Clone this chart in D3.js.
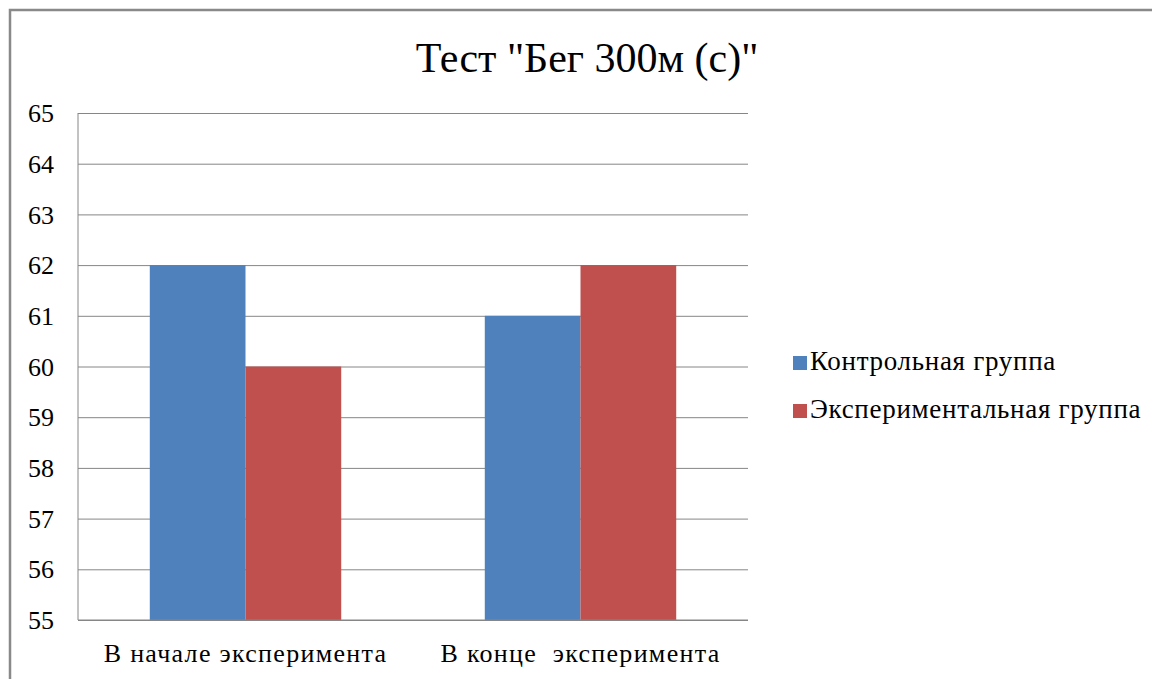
<html>
<head>
<script src="https://d3js.org/d3.v7.min.js"></script>
<style>
  body { margin: 0; background: #fff; }
  svg text { font-family: 'Liberation Serif', 'Times New Roman', 'DejaVu Serif', serif; fill: #000; }
  .gridlines line { stroke: #868686; stroke-width: 1; }
  .gridlines .domain { stroke: none; }
</style>
</head>
<body>
<svg id="chart" width="1152" height="679"></svg>
<script>
const categories = ["В начале эксперимента", "В конце  эксперимента"];
const seriesNames = ["Контрольная группа", "Экспериментальная группа"];
const control = [62, 61];
const experimental = [60, 62];
const yTicks = [55, 56, 57, 58, 59, 60, 61, 62, 63, 64, 65];
const colors = ["#4F81BD", "#C0504D"];
const serif = "'Liberation Serif', 'Times New Roman', 'DejaVu Serif', serif";

const svg = d3.select("svg#chart");

// outer frame (runs off the right and bottom edges)
svg.append("rect")
  .attr("x", 10).attr("y", 10)
  .attr("width", 1200).attr("height", 700)
  .attr("fill", "none").attr("stroke", "#898989").attr("stroke-width", 2.5);

const plot = {left: 78, right: 748, top: 113, bottom: 620};

const yScale = d3.scaleLinear().domain([55, 65]).range([plot.bottom, plot.top]);
const x0 = d3.scaleBand().domain(categories).range([plot.left, plot.right]);
const x1 = d3.scaleBand().domain(seriesNames).range([0, x0.bandwidth()])
  .paddingInner(0).paddingOuter(0.75);

// gridlines
svg.append("g")
  .attr("class", "gridlines")
  .attr("transform", `translate(${plot.left},0)`)
  .call(d3.axisLeft(yScale).tickValues(yTicks).tickSize(-(plot.right - plot.left)).tickFormat(""));

// y labels
svg.append("g").selectAll("text")
  .data(yTicks)
  .join("text")
  .attr("x", 54)
  .attr("y", d => yScale(d))
  .attr("dy", "0.35em")
  .attr("text-anchor", "end")
  .attr("font-family", serif)
  .attr("font-size", 26)
  .text(d => d);

// bars
const rows = categories.map((c, i) => ({cat: c, values: [control[i], experimental[i]]}));
svg.append("g").selectAll("g")
  .data(rows)
  .join("g")
  .attr("transform", d => `translate(${x0(d.cat)},0)`)
  .selectAll("rect")
  .data(d => d.values.map((v, j) => ({name: seriesNames[j], v: v, j: j})))
  .join("rect")
  .attr("x", d => x1(d.name))
  .attr("y", d => yScale(d.v))
  .attr("width", x1.bandwidth())
  .attr("height", d => yScale(55) - yScale(d.v))
  .attr("fill", d => colors[d.j]);

// axis lines
svg.append("line")
  .attr("x1", plot.left).attr("x2", plot.right)
  .attr("y1", plot.bottom).attr("y2", plot.bottom)
  .attr("stroke", "#868686");
svg.append("line")
  .attr("x1", plot.left).attr("x2", plot.left)
  .attr("y1", plot.top).attr("y2", plot.bottom)
  .attr("stroke", "#868686");

// category labels
svg.append("g").selectAll("text")
  .data(categories)
  .join("text")
  .attr("x", d => x0(d) + x0.bandwidth() / 2)
  .attr("y", 662)
  .attr("text-anchor", "middle")
  .attr("font-family", serif)
  .attr("font-size", 26)
  .attr("letter-spacing", 1.3)
  .style("white-space", "pre")
  .text(d => d);

// title
svg.append("text")
  .attr("x", 587).attr("y", 72)
  .attr("text-anchor", "middle")
  .attr("font-family", serif)
  .attr("font-size", 42)
  .text('Тест "Бег 300м (с)"');

// legend
const legend = svg.append("g").selectAll("g")
  .data(seriesNames)
  .join("g")
  .attr("transform", (d, i) => `translate(793,${370 + i * 48})`);
legend.append("rect")
  .attr("x", 0).attr("y", -14)
  .attr("width", 14).attr("height", 14)
  .attr("fill", (d, i) => colors[i]);
legend.append("text")
  .attr("x", 17).attr("y", 0)
  .attr("font-family", serif)
  .attr("font-size", 27)
  .attr("letter-spacing", 0.7)
  .text(d => d);
</script>
</body>
</html>
